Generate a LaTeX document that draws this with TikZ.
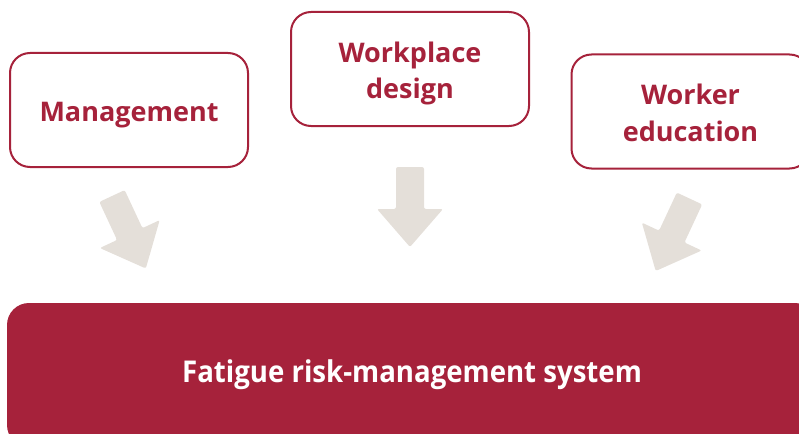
\documentclass[tikz,border=0pt]{standalone}
\usepackage{fontspec}
\usetikzlibrary{calc}
\setmainfont{Open Sans}
\newfontfamily\condfont[FakeStretch=0.92]{Open Sans}
\definecolor{frred}{HTML}{A6223B}
\definecolor{frgray}{HTML}{E4DFD9}
\newcommand{\boxtext}[1]{\raisebox{-4pt}[\height][\depth]{\begin{tabular}{@{}c@{}}#1\end{tabular}}}
\begin{document}
\begin{tikzpicture}[x=1pt,y=-1pt,
  topbox/.style={draw=frred, line width=2pt, fill=white, rounded corners=20pt,
    minimum width=238pt, minimum height=114pt, align=center, text=frred,
    font=\fontsize{27}{36.5}\selectfont\bfseries, inner sep=0pt},
  basebox/.style={fill=frred, rounded corners=22pt, minimum width=810pt,
    minimum height=144pt, text=white, inner sep=0pt,
    font=\condfont\fontsize{30}{36}\selectfont\bfseries},
  blockarrow/.style={fill=frgray, rounded corners=2pt}]
\useasboundingbox (0,0) rectangle (799,433);
\clip (0,0) rectangle (799,433);
\node[topbox] (mg) at (129,110) {\boxtext{Management}};
\node[topbox] (wd) at (410,69) {\boxtext{Workplace\\design}};
\node[topbox] (we) at (690.5,111.5) {\boxtext{Worker\\education}};
\node[basebox] (frms) at (412,375) {Fatigue risk-management system};
\coordinate (a1) at ($(mg.south)+(-17,28)$);
\coordinate (a2) at ($(wd.south)+(0,40)$);
\coordinate (a3) at ($(we.south)+(-1,29)$);
\foreach \c/\r in {a1/25, a2/0, a3/-25}{
  \begin{scope}[shift={(\c)}, rotate=\r]
    \fill[blockarrow] (-14,0) -- (14,0) -- (14,42) -- (33,42) -- (0,80) -- (-33,42) -- (-14,42) -- cycle;
  \end{scope}
}
\end{tikzpicture}
\end{document}
